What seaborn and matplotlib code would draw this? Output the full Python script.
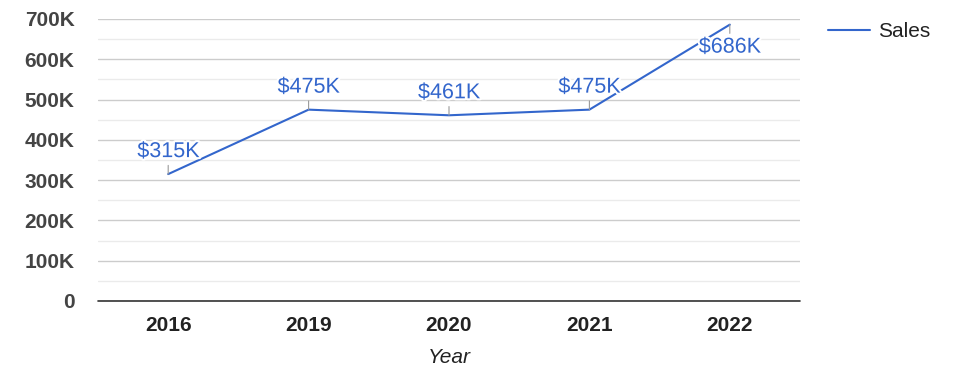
import numpy as np
import pandas as pd
import seaborn as sns
import matplotlib.pyplot as plt
import matplotlib.patheffects as pe
from matplotlib.ticker import MultipleLocator, FuncFormatter

# Data
years = ['2016', '2019', '2020', '2021', '2022']
sales = [315000, 475000, 461000, 475000, 686000]
labels = ['$315K', '$475K', '$461K', '$475K', '$686K']

df = pd.DataFrame({'Year': years, 'Sales': sales})

sns.set_style('white')
plt.rcParams['font.family'] = ['Liberation Sans', 'DejaVu Sans']

blue = '#3366cc'
fs = 15

fig = plt.figure(figsize=(9.75, 3.78), dpi=100)
ax = fig.add_axes([98 / 975, 1 - 301 / 378, 702 / 975, 282 / 378])

sns.lineplot(data=df, x='Year', y='Sales', color=blue, linewidth=1.5,
             sort=False, ax=ax, label='Sales', zorder=3)

ax.set_xlim(-0.5, len(years) - 0.5)
ax.set_ylim(0, 700000)

# gridlines: major every 100K, minor every 50K
ax.yaxis.set_major_locator(MultipleLocator(100000))
ax.yaxis.set_minor_locator(MultipleLocator(50000))
ax.grid(axis='y', which='major', color='#cccccc', linewidth=1, zorder=0)
ax.grid(axis='y', which='minor', color='#ebebeb', linewidth=1, zorder=0)
ax.grid(axis='x', visible=False)
ax.set_axisbelow(True)
ax.axhline(0, color='#333333', linewidth=1.2, zorder=2.5, clip_on=False)

for s in ax.spines.values():
    s.set_visible(False)

ax.yaxis.set_major_formatter(FuncFormatter(lambda v, p: '0' if v == 0 else f'{int(v / 1000)}K'))
ax.tick_params(axis='y', which='both', length=0, pad=17, labelsize=fs, labelcolor='#444444')
ax.tick_params(axis='x', length=0, pad=11, labelsize=fs, labelcolor='#222222')
for t in ax.get_yticklabels() + ax.get_xticklabels():
    t.set_fontweight('bold')

ax.set_ylabel('')
ax.set_xlabel('Year', fontsize=fs, fontstyle='italic', color='#222222', labelpad=9)

# point annotations with small stems
for i, (v, lab) in enumerate(zip(sales, labels)):
    below = v > 650000
    off = -12 if below else 12
    ax.annotate(lab, xy=(i, v), xytext=(0, off), textcoords='offset pixels',
                ha='center', va='top' if below else 'bottom',
                fontsize=15.5, color=blue, zorder=4,
                path_effects=[pe.withStroke(linewidth=3, foreground='white')],
                arrowprops=dict(arrowstyle='-', color='#999999', lw=0.8,
                                shrinkA=0, shrinkB=0))

leg = ax.legend(loc='upper left', bbox_to_anchor=(820 / 975, 1 - 14 / 378),
                bbox_transform=fig.transFigure, frameon=False, fontsize=fs,
                handlelength=2.0, handletextpad=0.4, borderaxespad=0)
for t in leg.get_texts():
    t.set_color('#222222')

fig.savefig('out.png', dpi=100)
